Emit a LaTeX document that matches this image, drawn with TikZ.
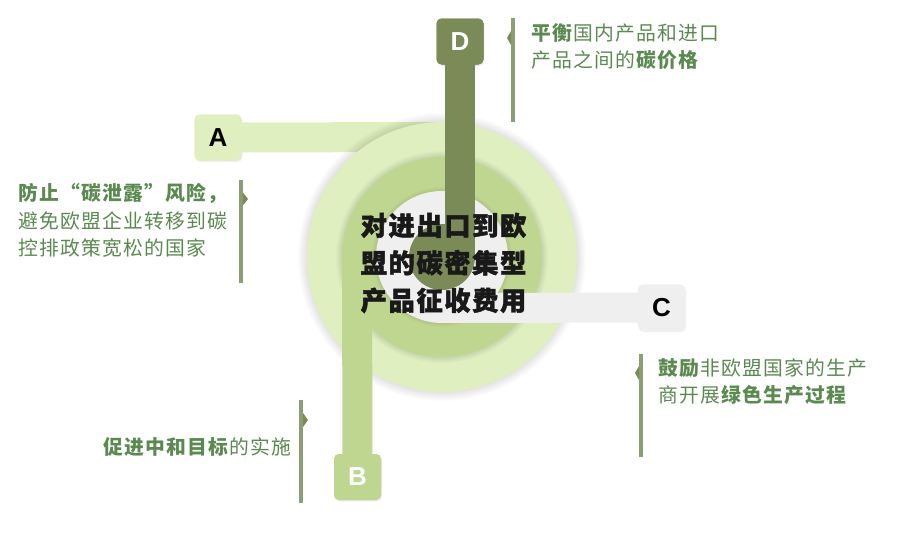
\documentclass[tikz,border=0pt]{standalone}
\usepackage{fontspec}
\setmainfont{Liberation Sans}
\newfontfamily\cjkc{Noto Sans CJK SC}[LetterSpace=6,BoldFeatures={FakeBold=1.6}]
\newfontfamily\cjks{Noto Sans CJK SC}[LetterSpace=6]
\usetikzlibrary{shadows}
\definecolor{ringA}{HTML}{DFEFC0}
\definecolor{ringB}{HTML}{BFD690}
\definecolor{ringC}{HTML}{EFEFEF}
\definecolor{ringD}{HTML}{7B8B57}
\definecolor{txt}{HTML}{5B8A50}
\definecolor{sepc}{HTML}{8C9E74}
\definecolor{tric}{HTML}{7B8B57}
\begin{document}
\begin{tikzpicture}[x=1pt,y=-1pt,
  box/.style={rounded corners=5pt, minimum width=47pt, minimum height=46pt, inner sep=0pt,
    font=\bfseries\fontsize{26}{26}\selectfont,
    drop shadow={opacity=0.12, shadow xshift=1pt, shadow yshift=-1.5pt}},
  boxtop/.style={rounded corners=5pt, minimum width=47pt, minimum height=46pt, inner sep=0pt,
    font=\bfseries\fontsize{26}{26}\selectfont},
  bar/.style={line width=30pt},
  ring/.style={circle, inner sep=0pt},
  sidetext/.style={inner sep=0pt, align=left, text=txt, font=\cjks\fontsize{19.8}{27.5}\selectfont},
  sepline/.style={draw=sepc, line width=4pt},
  tri/.style={fill=tric}
]
\useasboundingbox (0,0) rectangle (897,533);
\fill[white] (0,0) rectangle (897,533);

% --- outer ring with A
\coordinate (cen) at (442,257);
\coordinate (aEnd) at (442,137);
\node[box, fill=ringA] (A) at (218,137.5) {A};
\draw[bar, ringA] (A.center) -- (aEnd);
\node[boxtop, fill=ringA] (A2) at (218,137.5) {A};
\foreach \k in {1,...,10}{\fill[black,opacity=0.013,xshift=1.5pt,yshift=-2.5pt] (cen) circle[radius={134pt+\k*1pt}];}
\node[ring, fill=ringA, minimum size=270pt] (R1) at (cen) {};

% --- middle ring with B
\foreach \k in {1,...,7}{\fill[black,opacity=0.015,xshift=1pt,yshift=-2pt] (cen) circle[radius={99pt+\k*1pt}];}
\node[ring, fill=ringB, minimum size=200pt] (R2) at (cen) {};
\coordinate (bEnd) at (357,257);
\node[box, fill=ringB, text=white] (B) at (357.5,477) {B};
\draw[bar, ringB] (bEnd) -- (B.center);
\node[boxtop, fill=ringB, text=white] (B2) at (357.5,477) {B};

% --- inner ring with C
\foreach \k in {1,...,5}{\fill[black,opacity=0.014,xshift=1pt,yshift=-2pt] (cen) circle[radius={65pt+\k*1pt}];}
\node[ring, fill=ringC, minimum size=132pt] (R3) at (cen) {};
\coordinate (cEnd) at (442,308);
\node[box, fill=ringC, text=black] (C) at (661.5,307.5) {C};
\draw[bar, ringC] (cEnd) -- (C.center);
\node[boxtop, fill=ringC, text=black] (C2) at (661.5,307.5) {C};

% --- core with D
\node[ring, fill=ringD, minimum size=66pt] (R4) at (cen) {};
\coordinate (dEnd) at (460,257);
\node[box, fill=ringD, text=white] (D) at (460,41.5) {D};
\draw[bar, ringD] (D.center) -- (dEnd);
\node[boxtop, fill=ringD, text=white] (D2) at (460,41.5) {D};

% --- centre text
\node[inner sep=0pt, anchor=west, align=left, text={black!90},
  font=\cjkc\bfseries\fontsize{26.3}{37.5}\selectfont] (T) at (360.5,263)
  {对进出口到欧\\盟的碳密集型\\产品征收费用};

% --- side texts
\node[sidetext, anchor=west] (tD) at (531,46.5) {\textbf{平衡}国内产品和进口\\产品之间的\textbf{碳价格}};
\node[sidetext, anchor=west] (tA) at (18,220.5) {\textbf{防止“碳泄露”风险，}\\避免欧盟企业转移到碳\\控排政策宽松的国家};
\node[sidetext, anchor=east] (tB) at (291,447) {\textbf{促进中和目标}的实施};
\node[sidetext, anchor=west] (tC) at (658,381.5) {\textbf{鼓励}非欧盟国家的生产\\商开展\textbf{绿色生产过程}};

% --- separators
\draw[sepline] (513,18) -- (513,122);
\fill[tri] (511,31) -- (507,38) -- (511,45) -- cycle;
\draw[sepline] (240.5,180) -- (240.5,283);
\fill[tri] (242.5,192) -- (248,199) -- (242.5,206) -- cycle;
\draw[sepline] (301,400) -- (301,503);
\fill[tri] (303,413) -- (308,420) -- (303,427) -- cycle;
\draw[sepline] (641,354) -- (641,457);
\fill[tri] (639,366) -- (635,373) -- (639,380) -- cycle;
\end{tikzpicture}
\end{document}
